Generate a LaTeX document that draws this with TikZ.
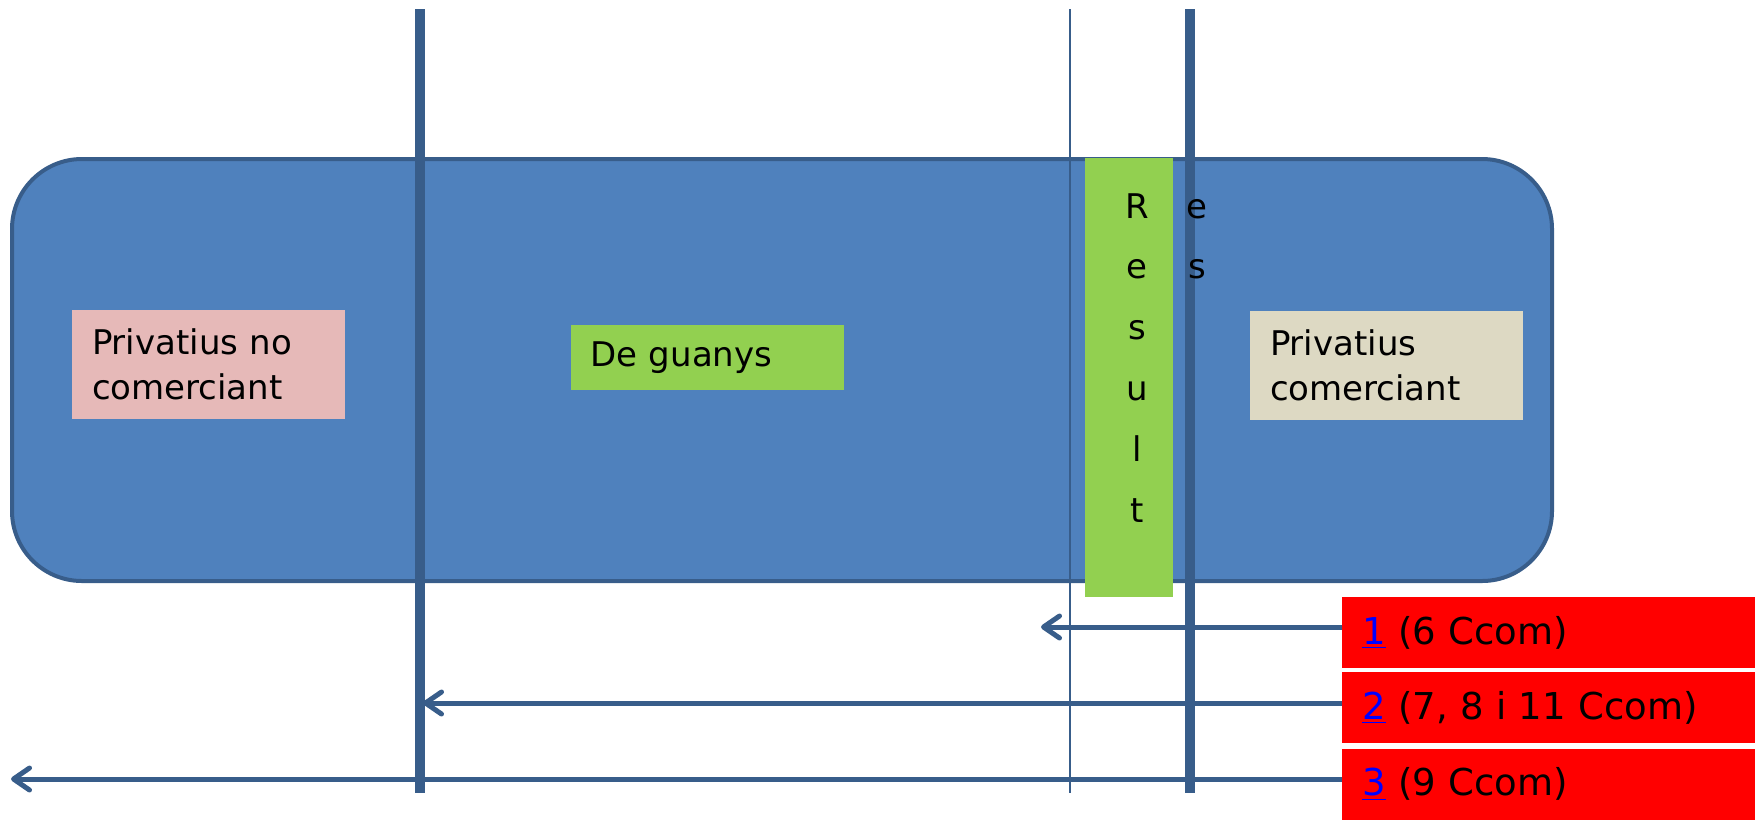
\documentclass[tikz,border=0pt]{standalone}
\usepackage{fontspec}
\setmainfont{DejaVu Sans}
\usetikzlibrary{arrows.meta}

\definecolor{fonsblau}{HTML}{4F81BD}
\definecolor{vorablau}{HTML}{385D8A}
\definecolor{rosa}{HTML}{E6B9B8}
\definecolor{verd}{HTML}{92D050}
\definecolor{beix}{HTML}{DDD9C3}
\definecolor{vermell}{HTML}{FF0000}

\begin{document}
\begin{tikzpicture}[x=0.5pt,y=-0.5pt,
    text font/.style={font=\fontsize{17}{22.5}\selectfont},
    caixa/.style={text font, inner xsep=10pt, inner ysep=0pt, text width=116.5pt, minimum height=54.5pt, align=left},
    lletra/.style={text font, anchor=base, inner sep=0pt},
    article/.style={fill=vermell, anchor=west, inner xsep=10pt, inner ysep=0pt, text width=200pt,
        minimum height=35.5pt, align=left, font=\fontsize{18.5}{22}\selectfont},
    gruixuda/.style={vorablau, line width=5pt},
    fina/.style={vorablau, line width=1.2pt},
    fletxa/.style={vorablau, line width=2.5pt, -{Straight Barb[length=8pt,width=11pt,round]}}]
        \useasboundingbox (0,0) rectangle (1755,821);
        % The big rounded box
        \draw[fill=fonsblau, draw=vorablau, line width=2pt, rounded corners=35pt] (12,159) rectangle (1552,581);
        % Labels inside the box
        \node[caixa, fill=rosa] (nocom) at (208.5,364.5) {Privatius no\\comerciant};
        \node[caixa, fill=verd, minimum height=32.5pt] (guanys) at (707,357.5) {De guanys};
        \node[caixa, fill=beix] (com) at (1386.5,365) {Privatius\\comerciant};
        \node[fill=verd, minimum width=44pt, minimum height=219.5pt, inner sep=0pt] (result) at (1129,377.5) {};
        % Articles
        \node[article] (a1) at (1342,632.5) {\textcolor{blue}{\underline{1}} (6 Ccom)};
        \node[article] (a2) at (1342,707.5) {\textcolor{blue}{\underline{2}} (7, 8 i 11 Ccom)};
        \node[article] (a3) at (1342,784) {\textcolor{blue}{\underline{3}} (9 Ccom)};
        % Arrows back to the columns
        \coordinate (p1) at (1041,627);
        \coordinate (p2) at (423,703);
        \coordinate (p3) at (11,779);
        \foreach \i in {1,2,3}
            \draw[fletxa] (a\i.west |- p\i) -- (p\i);
        % Vertical lines
        \coordinate (v1) at (420,9);
        \coordinate (v2) at (1070,9);
        \coordinate (v3) at (1190,9);
        \draw[gruixuda] (v1) -- (420,793);
        \draw[fina] (v2) -- (1070,793);
        \draw[gruixuda] (v3) -- (1190,793);
        % Vertical word
        \foreach \c [count=\i from 0] in {R,e,s,u,l,t}
            \node[lletra] (r\i) at (1137,218+60.8*\i) {\c};
        \foreach \c [count=\i from 0] in {e,s}
            \node[lletra] (q\i) at (1197,218+60.8*\i) {\c};
        %
    \end{tikzpicture}
\end{document}
